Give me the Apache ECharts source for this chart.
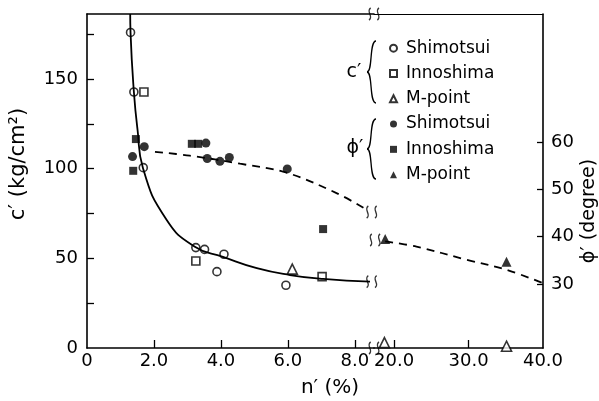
<!DOCTYPE html>
<html>
<head>
<meta charset="utf-8">
<script src="https://cdn.jsdelivr.net/npm/echarts@6/dist/echarts.min.js"></script>
<style>
  html, body { margin: 0; padding: 0; background: #fff; }
  #chart { width: 599px; height: 401px; }
</style>
</head>
<body>
<div id="chart"></div>
<script>
// c' values (kg/cm2) against n' (%)
const cShimotsui = [[1.30, 176], [1.40, 142.8], [1.68, 100.6], [3.25, 56], [3.51, 55], [4.09, 52.3], [3.88, 42.6], [5.94, 35]];
const cInnoshima = [[1.70, 142.8], [3.25, 48.5], [7.02, 39.8]];
const cMpointLeft = [[6.13, 44]];
const cMpointRight = [[18.7, 3], [35.1, 1]];
// phi' values (degree)
const phiShimotsui = [[1.36, 56.9], [1.71, 59.0], [3.55, 59.75], [3.59, 56.5], [3.97, 55.9], [4.25, 56.7], [5.98, 54.3]];
const phiInnoshima = [[1.38, 53.9], [1.46, 60.6], [3.13, 59.6], [3.32, 59.6], [7.05, 41.6]];
const phiMpoint = [[18.8, 39.5], [35.1, 34.7]];
// fitted curves
const cCurve = [[1.29, 186.3], [1.30, 176], [1.40, 142.8], [1.51, 121.6], [1.67, 100.4], [2.38, 71.4], [3.22, 56.5], [4.06, 50.8], [5.07, 44.5], [6.06, 40.7], [7.05, 38.5], [8.45, 37.0]];
const phiCurveLeft = [[2.03, 57.9], [3.07, 57.1], [4.57, 55.4], [5.96, 53.5], [7.45, 49.2], [8.35, 45.7]];
const phiCurveRight = [[18.8, 39.0], [23.0, 37.9], [29.8, 35.1], [35.1, 33.0], [40, 30.2]];
// axis ticks
const xLabelsLeft = [0, 2, 4, 6, 8];
const xTicksLeft = [2, 4, 6, 8];
const xLabelsRight = [20, 30, 40];
const xTicksRight = [20, 30];
const cLabels = [0, 50, 100, 150];
const cTicks = [25, 50, 75, 100, 125, 150, 175];
const phiLabels = [30, 40, 50, 60];
// axis-break marks
const breaksC = [[8.57, 186.3], [8.57, 0], [8.5, 37]];
const breaksPhiLeft = [[8.5, 45.2]];
const breaksPhiRight = [[17.45, 39.3]];

const FONT = "DejaVu Sans";
const cRange = [0, 186.3];
const phiRange = [16.5, 87];
const nLeft = [0, 8.57];
const nRight = [17.3, 40];

const chart = echarts.init(document.getElementById("chart"));

const hollow = { color: "#fff", borderColor: "#000", borderWidth: 1.6 };
const filled = { color: "#000" };
const breakSymbol = "path://M3,0 C0,3 5,7 2,10 M8,0 C5,3 10,7 7,10";
const breakStyle = { color: "rgba(0,0,0,0)", borderColor: "#000", borderWidth: 1.5 };

const xBase = {
  type: "value",
  splitLine: { show: false },
  axisLine: { onZero: false, lineStyle: { color: "#000", width: 1.6 } },
  axisTick: { inside: true, length: 8, lineStyle: { color: "#000", width: 1.3 } },
  axisLabel: { color: "#000", fontFamily: FONT, fontSize: 18, margin: 4 },
};

const option = {
  backgroundColor: "#fff",
  animation: false,
  grid: [
    { left: 87, top: 14, width: 287, height: 334 },
    { left: 374, top: 14, width: 169, height: 334 },
  ],
  xAxis: [
    Object.assign({}, xBase, {
      gridIndex: 0, min: nLeft[0], max: nLeft[1],
      axisTick: Object.assign({}, xBase.axisTick, { customValues: xTicksLeft }),
      axisLabel: Object.assign({}, xBase.axisLabel, {
        customValues: xLabelsLeft,
        formatter: (v) => (v === 0 ? "0" : v.toFixed(1)),
      }),
    }),
    Object.assign({}, xBase, {
      gridIndex: 1, min: nRight[0], max: nRight[1],
      axisTick: Object.assign({}, xBase.axisTick, { customValues: xTicksRight }),
      axisLabel: Object.assign({}, xBase.axisLabel, {
        customValues: xLabelsRight,
        formatter: (v) => v.toFixed(1),
      }),
    }),
    {
      type: "value", gridIndex: 0, position: "top", min: nLeft[0], max: nLeft[1],
      splitLine: { show: false }, axisTick: { show: false }, axisLabel: { show: false },
      axisLine: { onZero: false, lineStyle: { color: "#000", width: 1.6 } },
    },
    {
      type: "value", gridIndex: 1, position: "top", min: nRight[0], max: nRight[1],
      splitLine: { show: false }, axisTick: { show: false }, axisLabel: { show: false },
      axisLine: { onZero: false, lineStyle: { color: "#000", width: 1 } },
    },
  ],
  yAxis: [
    {
      type: "value", gridIndex: 0, position: "left", min: cRange[0], max: cRange[1],
      splitLine: { show: false },
      axisLine: { show: true, onZero: false, lineStyle: { color: "#000", width: 1.6 } },
      axisTick: { inside: true, length: 7, customValues: cTicks, lineStyle: { color: "#000", width: 1.3 } },
      axisLabel: { customValues: cLabels, color: "#000", fontFamily: FONT, fontSize: 18, margin: 9 },
    },
    { type: "value", gridIndex: 0, min: phiRange[0], max: phiRange[1], show: false },
    { type: "value", gridIndex: 1, min: cRange[0], max: cRange[1], show: false },
    {
      type: "value", gridIndex: 1, position: "right", min: phiRange[0], max: phiRange[1],
      splitLine: { show: false },
      axisLine: { show: true, onZero: false, lineStyle: { color: "#000", width: 1.6 } },
      axisTick: { inside: true, length: 6, customValues: phiLabels, lineStyle: { color: "#000", width: 1.3 } },
      axisLabel: { customValues: phiLabels, color: "#000", fontFamily: FONT, fontSize: 18, margin: 8 },
    },
  ],
  legend: {
    orient: "vertical",
    left: 384,
    top: 34,
    itemWidth: 7,
    itemHeight: 7,
    itemGap: 7,
    textStyle: { color: "#000", fontFamily: FONT, fontSize: 17, lineHeight: 18.3, padding: [0, 0, 0, 4] },
    formatter: (name) => name.split(":")[1],
    data: ["c:Shimotsui", "c:Innoshima", "c:M-point", "ϕ:Shimotsui", "ϕ:Innoshima", "ϕ:M-point"],
  },
  series: [
    {
      name: "c curve", type: "line", xAxisIndex: 0, yAxisIndex: 0, data: cCurve,
      smooth: 0.5, showSymbol: false, lineStyle: { color: "#000", width: 1.8 },
    },
    {
      name: "phi curve left", type: "line", xAxisIndex: 0, yAxisIndex: 1, data: phiCurveLeft,
      smooth: 0.35, showSymbol: false, lineStyle: { color: "#000", width: 1.8, type: [8, 6] },
    },
    {
      name: "phi curve right", type: "line", xAxisIndex: 1, yAxisIndex: 3, data: phiCurveRight,
      smooth: 0.35, showSymbol: false, lineStyle: { color: "#000", width: 1.8, type: [8, 6] },
    },
    { name: "c:Shimotsui", type: "scatter", xAxisIndex: 0, yAxisIndex: 0, data: cShimotsui, symbol: "circle", symbolSize: 8, itemStyle: hollow },
    { name: "c:Innoshima", type: "scatter", xAxisIndex: 0, yAxisIndex: 0, data: cInnoshima, symbol: "rect", symbolSize: 8, itemStyle: hollow },
    { name: "c:M-point", type: "scatter", xAxisIndex: 0, yAxisIndex: 0, data: cMpointLeft, symbol: "triangle", symbolSize: 10, itemStyle: hollow },
    { name: "c:M-point", type: "scatter", xAxisIndex: 1, yAxisIndex: 2, data: cMpointRight, symbol: "triangle", symbolSize: 10, itemStyle: hollow, clip: false },
    { name: "ϕ:Shimotsui", type: "scatter", xAxisIndex: 0, yAxisIndex: 1, data: phiShimotsui, symbol: "circle", symbolSize: 9, itemStyle: filled },
    { name: "ϕ:Innoshima", type: "scatter", xAxisIndex: 0, yAxisIndex: 1, data: phiInnoshima, symbol: "rect", symbolSize: 8, itemStyle: filled },
    { name: "ϕ:M-point", type: "scatter", xAxisIndex: 1, yAxisIndex: 3, data: phiMpoint, symbol: "triangle", symbolSize: 10, itemStyle: filled },
    { name: "break c", type: "scatter", xAxisIndex: 0, yAxisIndex: 0, data: breaksC, symbol: breakSymbol, symbolSize: [10, 12], itemStyle: breakStyle, clip: false, z: 5 },
    { name: "break phi l", type: "scatter", xAxisIndex: 0, yAxisIndex: 1, data: breaksPhiLeft, symbol: breakSymbol, symbolSize: [10, 12], itemStyle: breakStyle, clip: false },
    { name: "break phi r", type: "scatter", xAxisIndex: 1, yAxisIndex: 3, data: breaksPhiRight, symbol: breakSymbol, symbolSize: [10, 12], itemStyle: breakStyle, clip: false },
  ],
  graphic: [
    { type: "text", x: 19, y: 164, rotation: Math.PI / 2,
      style: { text: "c′ (kg/cm²)", font: "21px " + FONT, fill: "#000", align: "center", verticalAlign: "middle" } },
    { type: "text", x: 589, y: 211, rotation: Math.PI / 2,
      style: { text: "ϕ′ (degree)", font: "19px " + FONT, fill: "#000", align: "center", verticalAlign: "middle" } },
    { type: "text", x: 330, y: 388,
      style: { text: "n′ (%)", font: "20px " + FONT, fill: "#000", align: "center", verticalAlign: "middle" } },
    { type: "text", x: 354, y: 72,
      style: { text: "c′", font: "19px " + FONT, fill: "#000", align: "center", verticalAlign: "middle" } },
    { type: "text", x: 355, y: 148,
      style: { text: "ϕ′", font: "19px " + FONT, fill: "#000", align: "center", verticalAlign: "middle" } },
    { type: "bezierCurve", shape: { x1: 376, y1: 41, x2: 367, y2: 72, cpx1: 369, cpy1: 41, cpx2: 373, cpy2: 72 }, style: { stroke: "#000", lineWidth: 1.3, fill: null } },
    { type: "bezierCurve", shape: { x1: 367, y1: 72, x2: 376, y2: 103, cpx1: 373, cpy1: 72, cpx2: 369, cpy2: 103 }, style: { stroke: "#000", lineWidth: 1.3, fill: null } },
    { type: "bezierCurve", shape: { x1: 376, y1: 119, x2: 367, y2: 149, cpx1: 369, cpy1: 119, cpx2: 373, cpy2: 149 }, style: { stroke: "#000", lineWidth: 1.3, fill: null } },
    { type: "bezierCurve", shape: { x1: 367, y1: 149, x2: 376, y2: 179, cpx1: 373, cpy1: 149, cpx2: 369, cpy2: 179 }, style: { stroke: "#000", lineWidth: 1.3, fill: null } },
  ],
};

chart.setOption(option);
</script>
</body>
</html>
